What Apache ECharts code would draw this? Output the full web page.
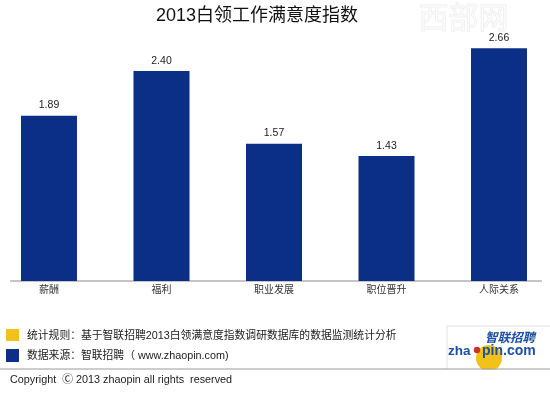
<!DOCTYPE html>
<html>
<head>
<meta charset="utf-8">
<script src="https://cdn.jsdelivr.net/npm/echarts@6/dist/echarts.min.js"></script>
<style>html,body{margin:0;padding:0;background:#fff;}#c{width:550px;height:396px;}</style>
</head>
<body>
<div id="c"></div>
<script>
var categories = ['薪酬', '福利', '职业发展', '职位晋升', '人际关系'];
var values = [1.89, 2.40, 1.57, 1.43, 2.66];
var titleText = '2013白领工作满意度指数';
var noteRule = '统计规则：基于智联招聘2013白领满意度指数调研数据库的数据监测统计分析';
var noteSource = '数据来源：智联招聘（ www.zhaopin.com)';
var copyrightText = 'Copyright  \u24B8 2013 zhaopin all rights  reserved';

var FONT = '"Helvetica Neue", Arial, "Liberation Sans", "Noto Sans CJK SC", sans-serif';
var NAVY = '#0b2f86';
var LOGO_BLUE = '#1d4fa3';
var chart = echarts.init(document.getElementById('c'));
chart.setOption({
  backgroundColor: '#ffffff',
  animation: false,
  textStyle: { fontFamily: FONT },
  title: {
    text: titleText, left: 252, top: 2, textAlign: 'center',
    textStyle: { fontSize: 18, fontWeight: 'normal', color: '#111', fontFamily: FONT }
  },
  grid: { left: 49, right: 51, top: 18.5, bottom: 115 },
  xAxis: {
    type: 'category', data: categories, boundaryGap: false,
    axisLine: { show: false }, axisTick: { show: false },
    axisLabel: { margin: 4, fontSize: 10, color: '#333', fontFamily: FONT, interval: 0 }
  },
  yAxis: {
    type: 'value', min: 0, max: 3, show: false,
    splitLine: { show: false }
  },
  series: [{
    type: 'bar', data: values, barWidth: 56,
    itemStyle: { color: NAVY },
    label: {
      show: true, position: 'top', distance: 5, fontSize: 10.5, color: '#222', fontFamily: FONT,
      formatter: function (p) { return p.value.toFixed(2); }
    }
  }],
  graphic: [
    { type: 'text', left: 418, top: 1, z: 0, style: { text: '西部网', fontSize: 30, fill: 'rgba(0,0,0,0)', stroke: '#f0f0f0', lineWidth: 1, fontFamily: '"Noto Sans CJK SC"' } },
    { type: 'line', shape: { x1: 10, y1: 281, x2: 542, y2: 281 }, style: { stroke: '#8a8a8a', lineWidth: 1 } },
    { type: 'rect', shape: { x: 6, y: 329, width: 13, height: 12 }, style: { fill: '#f2c21b' } },
    { type: 'rect', shape: { x: 6, y: 349, width: 13, height: 13 }, style: { fill: NAVY } },
    { type: 'text', x: 27, y: 336, style: { text: noteRule, fontSize: 10.8, fill: '#222', verticalAlign: 'middle', fontFamily: FONT } },
    { type: 'text', x: 27, y: 356, style: { text: noteSource, fontSize: 10.8, fill: '#222', verticalAlign: 'middle', fontFamily: FONT } },
    { type: 'text', x: 10, y: 380, style: { text: copyrightText, fontSize: 10.8, fill: '#222', verticalAlign: 'middle', fontFamily: FONT } },
    { type: 'line', shape: { x1: 447, y1: 326, x2: 550, y2: 326 }, style: { stroke: '#e2e2e2', lineWidth: 1 } },
    { type: 'line', shape: { x1: 447, y1: 326, x2: 447, y2: 369 }, style: { stroke: '#e2e2e2', lineWidth: 1 } },
    { type: 'circle', shape: { cx: 489, cy: 358, r: 13 }, style: { fill: '#f2c21b' } },
    { type: 'line', z: 10, shape: { x1: 0, y1: 369, x2: 550, y2: 369 }, style: { stroke: '#9a9a9a', lineWidth: 1 } },
    { type: 'rect', z: 9, shape: { x: 440, y: 369.5, width: 110, height: 20 }, style: { fill: '#fff' } },
    { type: 'text', z: 11, x: 485, y: 337.5, style: { text: '智联招聘', fontSize: 12.5, fontStyle: 'italic', fontWeight: 'bold', fill: LOGO_BLUE, verticalAlign: 'middle', fontFamily: '"Noto Sans CJK SC"' } },
    { type: 'text', z: 11, x: 448, y: 351, style: { text: 'zha', fontSize: 13.5, fontWeight: 'bold', fill: LOGO_BLUE, verticalAlign: 'middle', fontFamily: 'Arial, "Liberation Sans"' } },
    { type: 'circle', z: 11, shape: { cx: 477, cy: 350, r: 3.2 }, style: { fill: '#d0312d' } },
    { type: 'text', z: 11, x: 482, y: 351, style: { text: 'pin.com', fontSize: 14, fontWeight: 'bold', fill: LOGO_BLUE, verticalAlign: 'middle', fontFamily: 'Arial, "Liberation Sans"' } }
  ]
});
</script>
</body>
</html>
